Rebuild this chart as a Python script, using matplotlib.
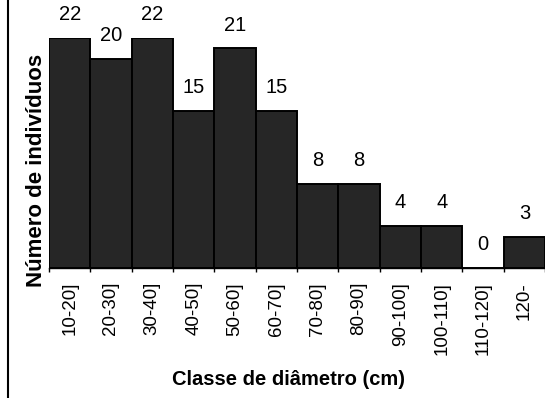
import matplotlib
matplotlib.use("Agg")
import matplotlib.pyplot as plt
from matplotlib.lines import Line2D
import numpy as np

plt.rcParams['font.family'] = ['Liberation Sans', 'DejaVu Sans']

classes = ["10-20]", "20-30]", "30-40]", "40-50]", "50-60]", "60-70]",
           "70-80]", "80-90]", "90-100]", "100-110]", "110-120]", "120-"]
counts = [22, 20, 22, 15, 21, 15, 8, 8, 4, 4, 0, 3]

fig = plt.figure(figsize=(5.45, 3.98), dpi=100)
ax = fig.add_axes([49 / 545, 130 / 398, 496 / 545, 230 / 398])

x = np.arange(len(classes))
ax.bar(x, counts, width=1.0, color="#262626", edgecolor="black", linewidth=1.4)

for xi, c in zip(x, counts):
    ax.annotate(str(c), (xi, c), xytext=(0, 10), textcoords="offset points",
                ha="center", va="bottom", fontsize=14.5, annotation_clip=False)

ax.set_xlim(-0.5, len(classes) - 0.5)
ax.set_ylim(0, 22)

# ticks at class boundaries, labels centred under bars
ax.set_xticks(np.arange(len(classes) + 1) - 0.5)
ax.set_xticklabels([])
ax.set_xticks(x, minor=True)
ax.set_xticklabels(classes, minor=True, rotation=90, fontsize=13.5, va="top")
ax.tick_params(axis="x", which="major", direction="out", length=3, width=1)
ax.tick_params(axis="x", which="minor", length=0, pad=10)
ax.set_yticks([])

for side in ("top", "right", "left"):
    ax.spines[side].set_visible(False)
ax.spines["bottom"].set_linewidth(1.0)

ax.set_xlabel("Classe de diâmetro (cm)", fontsize=14.5, fontweight="bold")
ax.xaxis.set_label_coords(0.482, -0.445)
ax.set_ylabel("Número de indivíduos", fontsize=16, fontweight="bold")
ax.yaxis.set_label_coords(-0.005, 0.426)

# page edge line on the left
fig.add_artist(Line2D([8 / 545, 8 / 545], [0, 1], color="black", linewidth=1.5,
                      transform=fig.transFigure))

fig.savefig("out.png", dpi=100)
